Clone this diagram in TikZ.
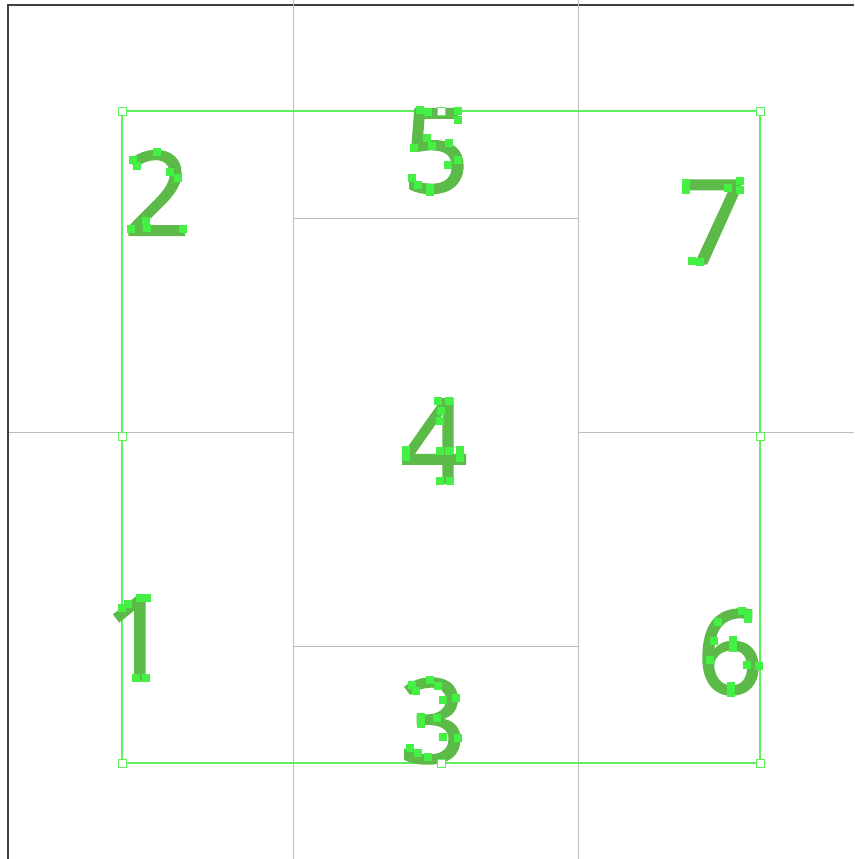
\documentclass[tikz,border=0pt]{standalone}
\usepackage{fontspec}
\setmainfont{Open Sans}
\newfontfamily\digitfont[FakeBold=2]{Open Sans}
\definecolor{glyph}{HTML}{5CBA48}
\definecolor{handle}{HTML}{44F044}
\definecolor{frame}{HTML}{5CF05C}
\definecolor{gridg}{HTML}{BDBDBD}
\begin{document}
\begin{tikzpicture}[x=1pt,y=-1pt,
  digit/.style={text=glyph,font=\digitfont\fontsize{116}{116}\selectfont,inner sep=0pt,anchor=center},
  pt/.style={fill=handle,draw=none,minimum size=7.5pt,inner sep=0pt},
  hd/.style={draw=frame,fill=white,line width=1pt,minimum size=8pt,inner sep=0pt},
  gridline/.style={draw=gridg,line width=1pt},
  frameline/.style={draw=frame,line width=1.3pt}]
\useasboundingbox (0,0) rectangle (854,859);
\fill[white] (0,0) rectangle (854,859);
% window border
\draw[line width=2pt,draw=black!75] (8,859) -- (8,5) -- (854,5);
% grid
\draw[gridline] (293,0) -- (293,859);
\draw[gridline] (578,0) -- (578,859);
\draw[gridline] (9,432) -- (293,432);
\draw[gridline] (578,432) -- (854,432);
\draw[gridline] (293,218) -- (578,218);
\draw[gridline] (293,646) -- (578,646);
% selection frame
\coordinate (tl) at (122,111);
\coordinate (br) at (760,763);
\draw[frameline] (tl) rectangle (br);
% digits
\node[digit] (d2) at (157,193) {2};
\node[digit] (d5) at (436,151) {5};
\node[digit] (d7) at (713,222) {7};
\node[digit] (d4) at (434,441) {4};
\node[digit] (d1) at (137,639) {1};
\node[digit] (d6) at (730,652) {6};
\node[digit] (d3) at (433,721) {3};
% glyph points
\foreach \p in {(133,160),(137,166),(157,152),(170,172),(178,178),(131,229),(147,228),(183,229),(146,221)}
  \node[pt] at \p {};
\foreach \p in {(420,110),(428,112),(458,111),(458,120),(427,138),(414,148),(432,146),(449,143),(458,160),(448,165),(412,178),(418,185),(430,188),(430,192)}
  \node[pt] at \p {};
\foreach \p in {(686,183),(686,190),(740,181),(740,190),(728,188),(692,261),(700,262)}
  \node[pt] at \p {};
\foreach \p in {(438,401),(449,401),(441,411),(440,421),(406,450),(406,457),(440,451),(449,451),(460,450),(460,458),(440,481),(450,481)}
  \node[pt] at \p {};
\foreach \p in {(122,608),(128,604),(140,598),(147,598),(136,678),(146,678)}
  \node[pt] at \p {};
\foreach \p in {(742,611),(748,614),(748,619),(718,622),(710,660),(714,641),(733,640),(733,648),(747,665),(759,666),(731,686),(731,693)}
  \node[pt] at \p {};
\foreach \p in {(412,685),(416,691),(430,680),(438,686),(456,698),(443,700),(421,717),(421,724),(437,718),(443,737),(458,738),(410,748),(418,753),(428,757)}
  \node[pt] at \p {};
% frame handles
\node[hd] (h1) at (122,111) {};
\node[hd] (h2) at (441,111) {};
\node[hd] (h3) at (760,111) {};
\node[hd] (h4) at (122,436) {};
\node[hd] (h5) at (760,436) {};
\node[hd] (h6) at (122,763) {};
\node[hd] (h7) at (441,763) {};
\node[hd] (h8) at (760,763) {};
\end{tikzpicture}
\end{document}
